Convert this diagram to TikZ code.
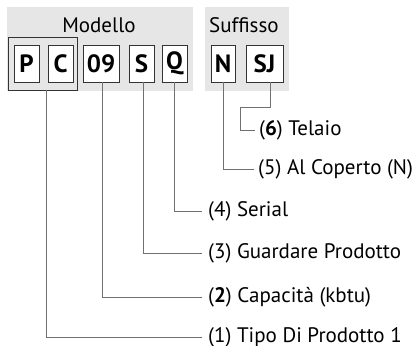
\documentclass[tikz,border=0pt]{standalone}
\usepackage{fontspec}
\setmainfont{PT Sans}
\usetikzlibrary{positioning}

\definecolor{panelgray}{HTML}{E6E6E6}
\definecolor{leadgray}{HTML}{707070}

\begin{document}
\begin{tikzpicture}[x = 1pt, y = -1pt,
	panel/.style = {fill = panelgray, draw = none},
	codebox/.style = {draw = black!80, fill = white, line width = 0.9pt, minimum height = 37pt,
		inner sep = 0pt, font = \fontsize{25}{27}\selectfont\bfseries},
	lead/.style = {draw = leadgray, line width = 0.9pt},
	desc/.style = {anchor = west, inner xsep = 6pt, inner ysep = 0pt, font = \fontsize{21}{24}\selectfont},
	heading/.style = {inner sep = 0pt, font = \fontsize{21}{24}\selectfont}]

	\useasboundingbox (0, 0) rectangle (414, 345);

	% Panels

	\fill [panel] (7, 7) rectangle (193, 91);
	\fill [panel] (205, 7) rectangle (289, 91);

	\node [heading] (modello) at (99, 25) {Modello};
	\node [heading, anchor = west] (suffisso) at (209, 25) {Suffisso};

	% Code boxes

	\node [draw = black!80, line width = 0.9pt, minimum width = 69pt, minimum height = 53pt,
		inner sep = 0pt] (tipo) at (42.5, 63.5) {};
	\node [codebox, minimum width = 25pt] (tipoP) at (26.5, 63.5) {P};
	\node [codebox, minimum width = 25pt] (tipoC) at (60.5, 63.5) {C};
	\node [codebox, minimum width = 36pt] (capac) at (101, 63.5) {09};
	\node [codebox, minimum width = 25pt] (guard) at (141.5, 63.5) {S};
	\node [codebox, minimum width = 25pt] (serial) at (174.5, 63.5) {Q};
	\node [codebox, minimum width = 24pt] (coperto) at (223, 63.5) {N};
	\node [codebox, minimum width = 37pt] (telaio) at (264.5, 63.5) {SJ};

	% Descriptions

	\node [desc, inner xsep = 4pt] (lblTelaio) at (255, 130) {(\textbf{6}) Telaio};
	\node [desc, inner xsep = 4pt] (lblCoperto) at (254, 169) {(5) Al Coperto (N)};
	\node [desc] (lblSerial) at (202, 211) {(4) Serial};
	\node [desc] (lblGuard) at (202, 253) {(3) Guardare Prodotto};
	\node [desc] (lblCapac) at (202, 297) {(\textbf{2}) Capacità (kbtu)};
	\node [desc] (lblTipo) at (202, 337) {(1) Tipo Di Prodotto 1};

	% Leaders

	\draw [lead] ([xshift = 6pt] telaio.south) |- (240, 107) |- (lblTelaio.west);
	\draw [lead] (coperto.south) |- (lblCoperto.west);
	\draw [lead] (serial.south) |- (lblSerial.west);
	\draw [lead] ([xshift = 1.5pt] guard.south) |- (lblGuard.west);
	\draw [lead] ([xshift = 1.5pt] capac.south) |- (lblCapac.west);
	\draw [lead] ([xshift = 3.5pt] tipo.south) |- (lblTipo.west);

\end{tikzpicture}
\end{document}
